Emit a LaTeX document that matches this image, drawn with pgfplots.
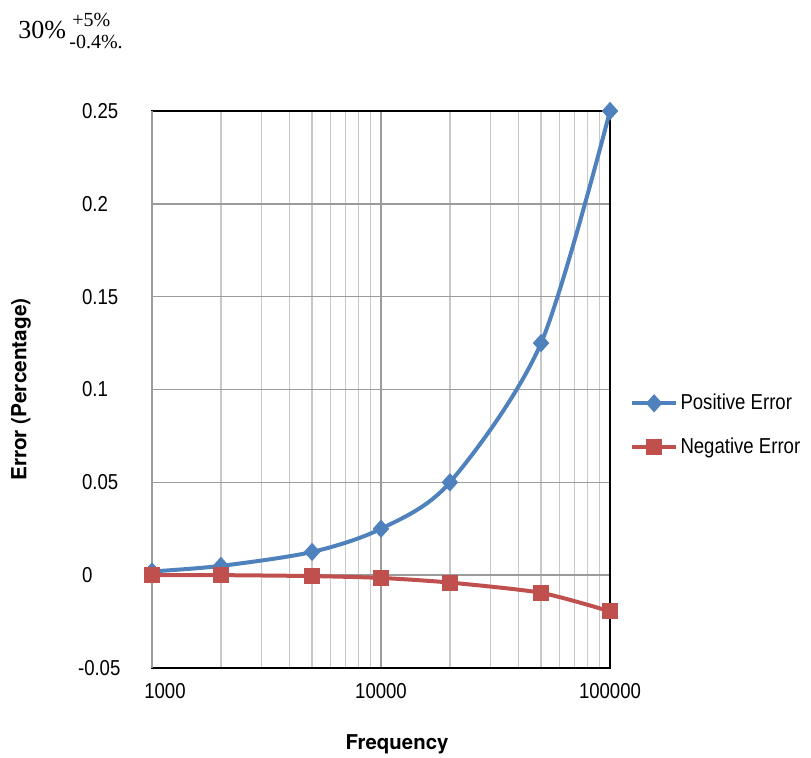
\documentclass[border=0pt]{standalone}
\usepackage{fontspec}
\setmainfont{Liberation Sans}[FakeStretch=0.86]
\newfontfamily\lblfont{TeX Gyre Heros}
\newfontfamily\serifttl{Liberation Serif}
\usepackage{pgfplots}
\pgfplotsset{compat=1.18}
\definecolor{exblue}{RGB}{79,129,189}
\definecolor{exred}{RGB}{192,80,77}
\definecolor{majgray}{RGB}{155,155,155}
\definecolor{mingray}{RGB}{200,200,200}
\begin{document}
\begin{tikzpicture}
\path[use as bounding box] (-76pt,-45pt) rectangle (329.5pt,334pt);
\begin{axis}[
  scale only axis,
  width=229pt, height=278.5pt,
  xmode=log,
  xmin=1000, xmax=100000,
  ymin=-0.05, ymax=0.25,
  xtick={1000,10000,100000},
  xticklabels={\hspace*{13pt}1000,10000,100000},
  ytick={-0.05,0,0.05,0.1,0.15,0.2,0.25},
  yticklabels={\hspace*{-2pt}-0.05,0,0.05,0.1,0.15,0.2,0.25},
  /pgf/number format/assume math mode=true,
  major tick length=0pt, minor tick length=0pt,
  xmajorgrids, xminorgrids, ymajorgrids,
  major grid style={majgray, line width=0.7pt},
  minor grid style={mingray, line width=0.6pt},
  axis line style={black, line width=0.8pt},
  tick label style={font=\fontsize{10.8}{13}\selectfont},
  yticklabel style={anchor=west, xshift=-38.5pt},
  xticklabel style={yshift=-4pt},
  xlabel={\lblfont\bfseries\fontsize{10.2}{12}\selectfont Frequency},
  ylabel={\lblfont\bfseries\fontsize{10.4}{12}\selectfont Error (Percentage)},
  every axis x label/.style={at={(axis description cs:0.535,0)}, anchor=north, yshift=-30pt},
  every axis y label/.style={at={(axis description cs:0,0.5)}, xshift=-65.5pt, rotate=90, anchor=center},
  legend style={draw=none, fill=none, at={(axis description cs:1.043,0.436)}, anchor=west,
    font=\fontsize{10.8}{13}\selectfont, row sep=8.5pt, inner sep=0pt, nodes={inner xsep=1.2pt}},
  legend cell align=left,
  legend image code/.code={\draw[mark repeat=2,mark phase=2] plot coordinates {(0pt,0pt) (11pt,0pt) (22pt,0pt)};},
  clip=false,
]
\draw[majgray, line width=0.8pt] (rel axis cs:0,0) -- (rel axis cs:0,1);
\addplot[exblue, line width=2pt, smooth, tension=0.5, mark=diamond*, mark size=4.2pt,
  mark options={fill=exblue, draw=exblue, line width=0.5pt, xscale=1.2}]
  coordinates {(1000,0.002) (2000,0.005) (5000,0.0125) (10000,0.025) (20000,0.05) (50000,0.125) (100000,0.25)};
\addlegendentry{Positive Error}
\addplot[exred, line width=2pt, smooth, tension=0.4, mark=square*, mark size=3.75pt,
  mark options={fill=exred, draw=exred, line width=0.5pt}]
  coordinates {(1000,0) (2000,0) (5000,-0.0005) (10000,-0.0015) (20000,-0.004) (50000,-0.0095) (100000,-0.0195)};
\addlegendentry{Negative Error}
\end{axis}
\node[anchor=base west, inner sep=0pt, font=\serifttl\fontsize{13}{15}\selectfont] at (-67pt,314.5pt) {30\%};
\node[anchor=base west, inner sep=0pt, font=\serifttl\fontsize{10}{12}\selectfont] at (-40pt,320.5pt) {+5\%};
\node[anchor=base west, inner sep=0pt, font=\serifttl\fontsize{10}{12}\selectfont] at (-41.5pt,309.5pt) {-0.4\%.};
\end{tikzpicture}
\end{document}
